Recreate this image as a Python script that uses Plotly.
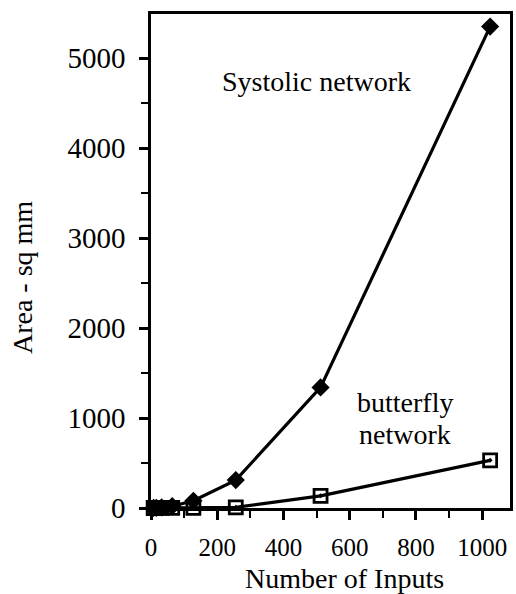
import plotly.graph_objects as go

# Number of network inputs
inputs = [8, 16, 32, 64, 128, 256, 512, 1024]
# Chip area (sq mm) for each network type
systolic_area = [1, 2, 6, 20, 80, 310, 1340, 5350]
butterfly_area = [0, 0, 1, 1, 2, 8, 135, 530]

x_ticks = [0, 200, 400, 600, 800, 1000]
y_ticks = [0, 1000, 2000, 3000, 4000, 5000]

FONT = "Liberation Serif, Times New Roman, serif"

fig = go.Figure()
fig.add_trace(go.Scatter(
    x=inputs, y=systolic_area, mode="lines+markers",
    line=dict(color="black", width=3.2),
    marker=dict(symbol="diamond", size=14, color="black"),
    cliponaxis=False, showlegend=False,
))
fig.add_trace(go.Scatter(
    x=inputs, y=butterfly_area, mode="lines+markers",
    line=dict(color="black", width=3.2),
    marker=dict(symbol="square-open-dot", size=13, color="black",
                line=dict(width=2.8, color="black")),
    cliponaxis=False, showlegend=False,
))

axis_common = dict(
    showgrid=False, zeroline=False, showline=True, linecolor="black",
    linewidth=2.5, mirror=True, ticks="outside", tickcolor="black",
    tickwidth=2.5, ticklen=9,
)

fig.update_xaxes(
    range=[0, 1084], tickvals=x_ticks, ticklabelstandoff=6,
    tickfont=dict(family=FONT, size=25, color="black"),
    minor=dict(ticks="outside", dtick=100, tick0=0, ticklen=7,
               tickwidth=2, tickcolor="black"),
    **axis_common,
)
fig.update_yaxes(
    range=[0, 5490], tickvals=y_ticks, ticklabelstandoff=8,
    tickfont=dict(family=FONT, size=29, color="black"),
    minor=dict(ticks="outside", dtick=500, tick0=0, ticklen=7,
               tickwidth=2, tickcolor="black"),
    **axis_common,
)

annotations = [
    dict(text="Systolic network", x=318, y=82),
    dict(text="butterfly", x=407, y=403),
    dict(text="network", x=407, y=434),
    dict(text="Number of Inputs", x=346, y=578),
    dict(text="Area - sq mm", x=22, y=278, textangle=-90),
]
for a in annotations:
    fig.add_annotation(
        text=a["text"], x=a["x"], y=a["y"], xref="paper", yref="paper",
        showarrow=False, textangle=a.get("textangle", 0),
        font=dict(family=FONT, size=28, color="black"),
        xanchor="center", yanchor="middle",
    )

# Convert pixel positions of the text labels to paper coordinates
W, H = 516, 594
L, R, T, B = 151, 3, 14, 86
pw, ph = W - L - R, H - T - B
for ann in fig.layout.annotations:
    px, py = ann.x, ann.y
    ann.x = (px - L) / pw
    ann.y = (H - B - py) / ph

fig.update_layout(
    width=W, height=H,
    margin=dict(l=L, r=R, t=T, b=B),
    paper_bgcolor="white", plot_bgcolor="white",
)

fig.write_html("out.html")
